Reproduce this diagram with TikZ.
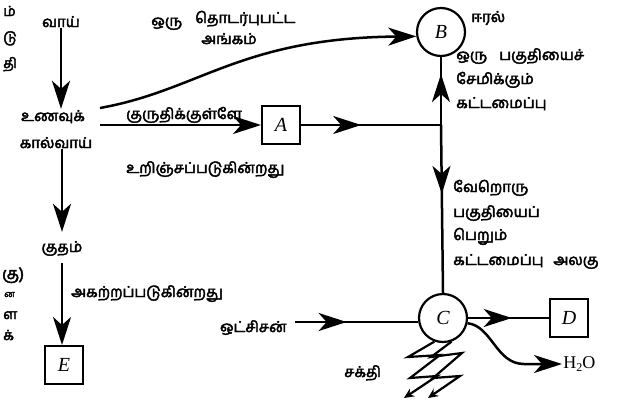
\documentclass[tikz,border=0pt]{standalone}
\usepackage{fontspec}
\setmainfont{Liberation Serif}
\newfontfamily\ta[Script=Tamil,FakeBold=3]{Hind Madurai}
\usetikzlibrary{arrows.meta,decorations.markings,calc}
\begin{document}
\begin{tikzpicture}[x=1pt,y=-1pt, line width=2.5pt,
 tip/.style={-{Stealth[length=28pt,width=18pt,inset=8pt]}},
 midarrow/.style={postaction={decorate},decoration={markings,mark=at position #1 with {\arrow{Stealth[length=28pt,width=18pt,inset=8pt]}}}},
 lab/.style={font=\ta\fontsize{15}{15}\selectfont, inner sep=0pt},
 frag/.style={font=\ta\fontsize{14}{14}\selectfont, inner sep=0pt, anchor=base west},
 box/.style={draw, line width=2pt, minimum size=38pt, inner sep=0pt, font=\itshape\fontsize{20}{20}\selectfont},
 circ/.style={draw, circle, line width=2.2pt, minimum size=48pt, inner sep=0pt, font=\itshape\fontsize{20}{20}\selectfont},
 bolt/.style={line width=2.2pt, -{Stealth[length=10pt,width=9pt]}}
]
\useasboundingbox[fill=white] (0,0) rectangle (628,405);
% left fragments
\node[frag] (f1) at (2,16) {ம்};
\node[frag] (f2) at (2,42) {டு};
\node[frag] (f3) at (2,68) {தி};
\node[frag, font=\ta\fontsize{16}{16}\selectfont] (f4) at (1,279) {கு)};
\node[frag, font=\ta\fontsize{9}{9}\selectfont] (f5) at (3,297) {ன};
\node[frag] (f6) at (2,319) {ள};
\node[frag] (f7) at (2,340) {க்};
% main nodes
\node[lab, anchor=base] (vaay) at (61,27) {வாய்};
\node[lab, anchor=base] (unavu) at (53,121) {உணவுக்};
\node[lab, anchor=base] (kal) at (56,148) {கால்வாய்};
\node[lab, anchor=base] (kudam) at (62,252) {குதம்};
\node[box] (E) at (64,365) {E};
\node[box] (A) at (281,125) {A};
\node[circ] (B) at (441,32) {B};
\node[circ] (C) at (443,318) {C};
\node[box] (D) at (569,318) {D};
\coordinate (jn) at (441,125);
\coordinate (c1) at (100,108);
\coordinate (c2) at (100,125);
\coordinate (o1) at (295,322);
% labels
\node[lab, anchor=base west] (l1) at (150,26) {ஒரு};
\node[lab, anchor=base west] (l2) at (194,23) {தொடர்புபட்ட};
\node[lab, anchor=base] (l3) at (229,44) {அங்கம்};
\node[lab, anchor=base west] (l4) at (125,119) {குருதிக்குள்ளே};
\node[lab, anchor=base west] (l5) at (125,173) {உறிஞ்சப்படுகின்றது};
\node[lab, anchor=base west] (l6) at (70,297) {அகற்றப்படுகின்றது};
\node[lab, anchor=base west] (l7) at (470,22) {ஈரல்};
\node[lab, anchor=base west] (l8) at (455,60) {ஒரு\hspace{12pt}பகுதியைச்};
\node[lab, anchor=base west] (l9) at (455,84) {சேமிக்கும்};
\node[lab, anchor=base west] (l10) at (455,108) {கட்டமைப்பு};
\node[lab, anchor=base west] (l11) at (452,192) {வேறொரு};
\node[lab, anchor=base west] (l12) at (452,217) {பகுதியைப்};
\node[lab, anchor=base west] (l13) at (452,240) {பெறும்};
\node[lab, anchor=base west] (l14) at (452,265) {கட்டமைப்பு\hspace{10pt}அலகு};
\node[lab, anchor=base east] (ox) at (288,332) {ஒட்சிசன்};
\node[lab, anchor=base west] (sakthi) at (343,377) {சக்தி};
\node[anchor=west, inner sep=0pt, font=\fontsize{18}{18}\selectfont] (h2o) at (562,364) {H\raisebox{-0.35ex}{\fontsize{12}{12}\selectfont 2}O};
% connectors
\draw[tip] (vaay.south) -- (vaay.south |- unavu.north);
\draw[tip] (kal.south -| kudam) -- ([yshift=8pt]kudam.north);
\draw[tip] ([yshift=-6pt]kudam.south) -- (kudam.south |- E.north);
\draw[tip] (c1) .. controls (200,90) and (240,38) .. (B.190);
\draw[tip] (c2) -- (A.west);
\draw[midarrow=0.43] (A.east) -- (jn);
\draw[midarrow=0.75] (jn) -- (B.south);
\draw[midarrow=0.41] (jn) -- (C.north);
\draw[midarrow=0.42] (o1) -- (o1 -| C.west);
\draw[midarrow=0.54] (C.east) -- (D.west);
\draw[tip] (C.-12) .. controls (492,326) and (496,364) .. (524,364) -- (h2o.west);
\draw[bolt] (C.-110) -- (408,357) -- (440,355) -- (410,378) -- (437,376) -- (404,398);
\draw[bolt] (C.-70) -- (431,357) -- (462,353) -- (433,378) -- (460,376) -- (428,398);
\end{tikzpicture}
\end{document}
